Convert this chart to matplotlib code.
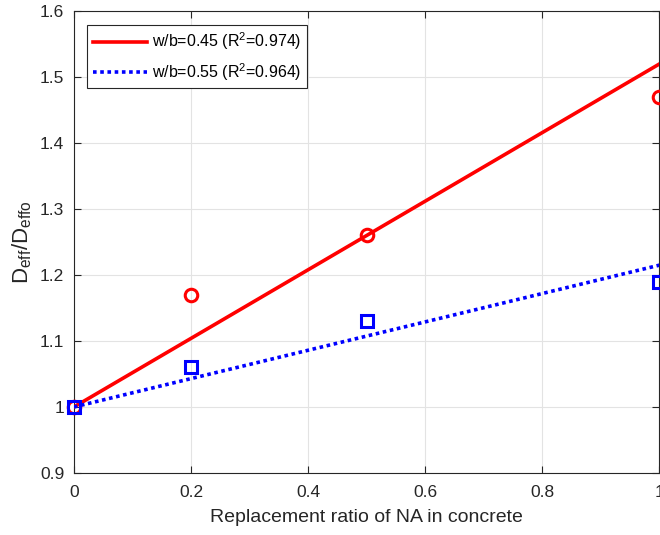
import numpy as np
import matplotlib.pyplot as plt

plt.rcParams['font.family'] = ['Liberation Sans', 'DejaVu Sans']
plt.rcParams['mathtext.fontset'] = 'custom'
plt.rcParams['mathtext.rm'] = 'Liberation Sans'

ratio = np.array([0., 0.2, 0.5, 1.])
d_045 = np.array([1.0, 1.17, 1.26, 1.47])
d_055 = np.array([1.0, 1.06, 1.13, 1.19])
# fitted lines through (0, 1)
slope_045 = 0.52
slope_055 = 0.215
labels = [r'w/b=0.45 (R$^2$=0.974)', r'w/b=0.55 (R$^2$=0.964)']

fig = plt.figure(figsize=(6.6, 5.35), dpi=100)
ax = fig.add_axes([0.112, 0.116, 0.887, 0.863])

xf = np.array([0., 1.])
ax.plot(xf, 1 + slope_045 * xf, color='r', lw=2.6, label=labels[0], zorder=3)
ax.plot(xf, 1 + slope_055 * xf, color='b', lw=2.6, ls=(0, (1, 1)), label=labels[1], zorder=3)
ax.plot(ratio, d_045, 'o', mfc='none', mec='r', mew=2.2, ms=9, clip_on=False, zorder=4)
ax.plot(ratio, d_055, 's', mfc='none', mec='b', mew=2.2, ms=8, clip_on=False, zorder=5)

ax.set_xlim(0, 1)
ax.set_ylim(0.9, 1.6)
ax.set_xticks([0, 0.2, 0.4, 0.6, 0.8, 1])
ax.set_xticklabels(['0', '0.2', '0.4', '0.6', '0.8', '1'])
ax.set_yticks(np.arange(0.9, 1.61, 0.1))
ax.set_yticklabels(['0.9', '1', '1.1', '1.2', '1.3', '1.4', '1.5', '1.6'])
ax.grid(True, color='#e3e3e3', lw=0.8)
ax.set_axisbelow(True)
ax.tick_params(direction='in', top=True, right=True, labelsize=12.5, colors='#262626', length=5)
ax.tick_params(axis='x', pad=9)
ax.tick_params(axis='y', pad=7)
for s in ax.spines.values():
    s.set_color('#262626')
ax.set_xlabel('Replacement ratio of NA in concrete', fontsize=14, color='#262626', labelpad=6)
ax.set_ylabel(r'D$_{\rm eff}$/D$_{\rm effo}$', fontsize=16, color='#262626', labelpad=4)

leg = ax.legend(loc='upper left', fontsize=11.5, fancybox=False, framealpha=1,
                edgecolor='#262626', handlelength=3.4, handletextpad=0.3,
                borderpad=0.35, labelspacing=0.55, borderaxespad=0.85)
leg.get_frame().set_linewidth(0.8)

plt.savefig('out.png', dpi=100)
